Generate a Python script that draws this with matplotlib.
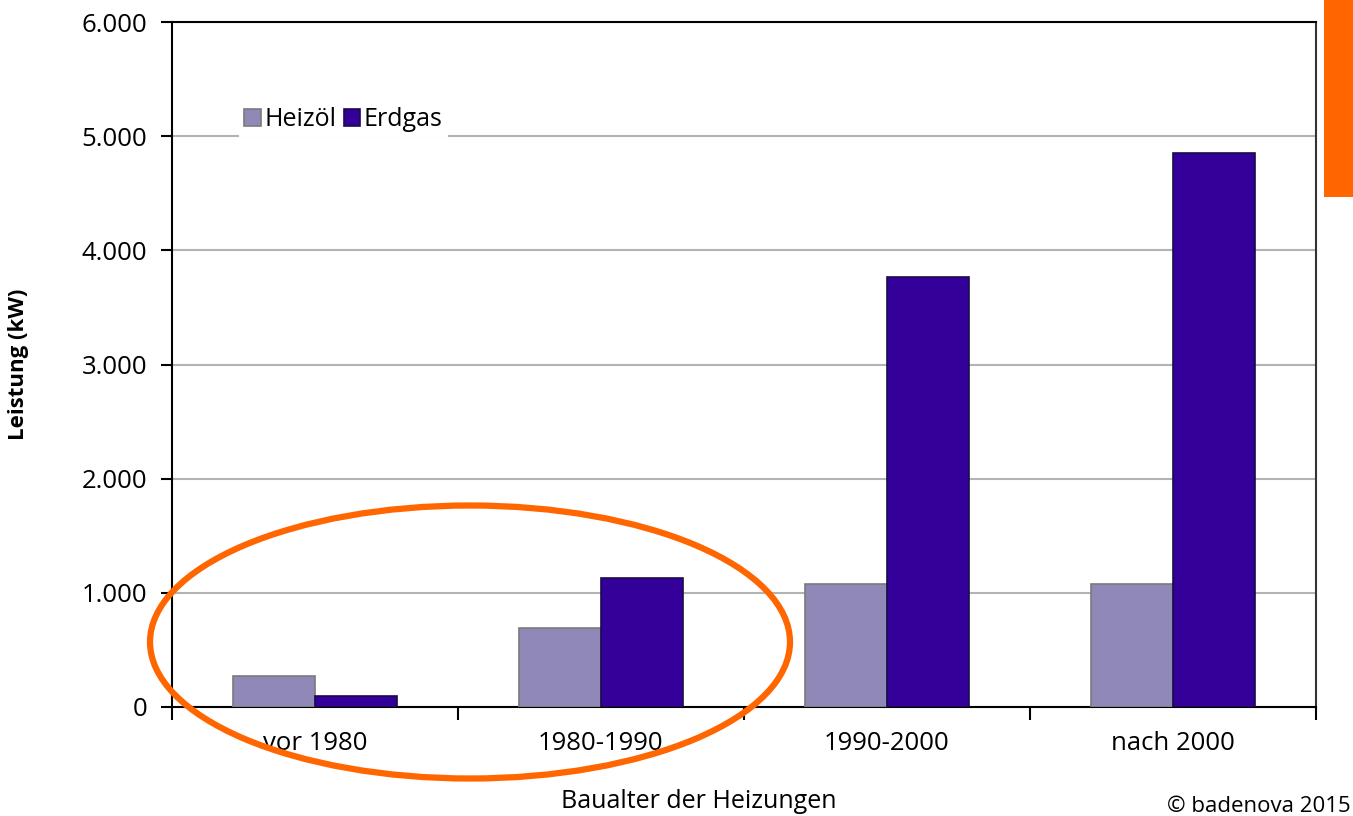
import matplotlib
matplotlib.use("Agg")
import matplotlib.pyplot as plt
import numpy as np
from matplotlib.patches import Ellipse, Rectangle
from matplotlib.ticker import FuncFormatter, FixedLocator

categories = ["vor 1980", "1980-1990", "1990-2000", "nach 2000"]
heizoel = [270, 690, 1080, 1075]
erdgas = [100, 1130, 3770, 4850]
series_names = ["Heizöl", "Erdgas"]
yticks = [0, 1000, 2000, 3000, 4000, 5000, 6000]

plt.rcParams['font.family'] = ['Open Sans', 'DejaVu Sans']

W, H = 1353, 816
fig = plt.figure(figsize=(W / 100, H / 100), dpi=100)
ax = fig.add_axes([172 / W, 1 - 707 / H, 1144 / W, 685 / H])

x = np.arange(len(categories))
bw = 0.287
ax.bar(x - bw / 2, heizoel, width=bw, color="#9089B8", edgecolor="#7a7a7a",
       linewidth=1.2, zorder=3, label=series_names[0])
ax.bar(x + bw / 2, erdgas, width=bw, color="#330099", edgecolor="#1c0a4a",
       linewidth=1.2, zorder=3, label=series_names[1])

ax.set_xlim(-0.5, len(categories) - 0.5)
ax.set_ylim(0, 6000)
ax.set_yticks(yticks)
ax.yaxis.set_major_formatter(FuncFormatter(lambda v, p: f"{int(v):,}".replace(",", ".")))
ax.yaxis.grid(True, color="#b3b3b3", linewidth=1.5, zorder=0)
ax.set_axisbelow(True)

ax.xaxis.set_major_locator(FixedLocator(np.arange(-0.5, len(categories), 1.0)))
ax.xaxis.set_minor_locator(FixedLocator(x))
ax.set_xticklabels([], minor=False)
ax.set_xticklabels(categories, minor=True)
ax.tick_params(axis='x', which='major', length=9, width=1.5, direction='out', color='black')
ax.tick_params(axis='x', which='minor', length=0, pad=17, labelsize=18.5)
ax.tick_params(axis='y', which='major', length=8, width=1.5, direction='out', pad=10, labelsize=18.5)

for s in ax.spines.values():
    s.set_linewidth(1.5)
    s.set_color("black")
ax.spines['right'].set_color("#333333")

ax.set_ylabel("Leistung (kW)", fontsize=16, fontweight='bold')
ax.yaxis.set_label_coords(-0.125, 0.5)
fig.text(699 / W, 1 - 802 / H, "Baualter der Heizungen", ha='center', va='center', fontsize=18)
fig.text(1351 / W, 1 - 806 / H, "© badenova 2015", ha='right', va='center', fontsize=16)

leg = ax.legend(loc='center left', bbox_to_anchor=(0.048, 0.857), ncol=2, frameon=True,
                fontsize=18, handlelength=0.65, handleheight=0.65, handletextpad=0.15,
                columnspacing=0.3, borderpad=0.2, fancybox=False)
leg.get_frame().set_facecolor("white")
leg.get_frame().set_edgecolor("none")
leg.get_frame().set_alpha(1)
leg.set_zorder(5)

ell = Ellipse((470 / W, 1 - 642 / H), 640 / W, 273 / H, transform=fig.transFigure,
              fill=False, edgecolor="#FF6600", linewidth=4.5, zorder=10)
fig.patches.append(ell)
rect = Rectangle((1324 / W, 1 - 197 / H), 29 / W, 197 / H, transform=fig.transFigure,
                 facecolor="#FF6600", edgecolor="none", zorder=10)
fig.patches.append(rect)

fig.savefig("out.png", dpi=100)
